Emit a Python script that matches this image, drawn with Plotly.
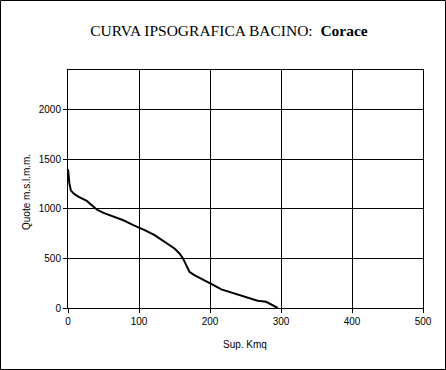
import plotly.graph_objects as go

# Data: area (km²) vs elevation (m s.l.m.)
sup_kmq = [0, 0.7, 2, 4, 8, 15, 26.5, 33.5, 40.5, 50, 64, 78, 92, 105, 108, 122, 136, 150,
           157, 162, 166.5, 171, 178, 187.5, 197, 205, 216, 235, 253, 267, 279, 288.5, 295.5]
quote = [1400, 1338, 1254, 1187, 1154, 1120, 1080, 1036, 993, 959, 918, 885, 835, 800, 785, 734,
         667, 600, 550, 500, 433, 365, 332, 299, 265, 231, 188, 148, 108, 73, 63, 30, 0]

x_ticks = [0, 100, 200, 300, 400, 500]
y_ticks = [0, 500, 1000, 1500, 2000]

W, H = 446, 370
L, R, T, B = 68, 23, 70, 62
pw, ph = W - L - R, H - T - B

fig = go.Figure()
fig.add_trace(go.Scatter(x=sup_kmq, y=quote, mode="lines",
                         line=dict(color="black", width=2), showlegend=False,
                         hoverinfo="skip"))

axis_common = dict(showline=True, linecolor="black", linewidth=1, mirror=True,
                   showgrid=True, gridcolor="black", gridwidth=1,
                   ticks="outside", ticklen=4, tickcolor="black", tickwidth=1,
                   zeroline=False,
                   tickfont=dict(family="Liberation Sans, Arial", size=10, color="black"))

fig.update_layout(
    width=W, height=H,
    margin=dict(l=L, r=R, t=T, b=B),
    paper_bgcolor="white", plot_bgcolor="white",
    xaxis=dict(range=[0, 500], tickvals=x_ticks, **axis_common),
    yaxis=dict(range=[0, 2400], tickvals=y_ticks, **axis_common),
    title=dict(text="CURVA IPSOGRAFICA BACINO:  <b>Corace</b>",
               font=dict(family="Liberation Serif, Times New Roman", size=15.5, color="black"),
               x=229 / W, xanchor="center", xref="container",
               y=1 - 31 / H, yanchor="middle", yref="container"),
    annotations=[
        dict(text="Quote m.s.l.m.m.", xref="paper", yref="paper",
             x=(26 - L) / pw, y=(H - B - 192) / ph, textangle=-90, showarrow=False,
             xanchor="center", yanchor="middle",
             font=dict(family="Liberation Sans, Arial", size=10, color="black")),
        dict(text="Sup. Kmq", xref="paper", yref="paper",
             x=(245 - L) / pw, y=-(344 - (H - B)) / ph, showarrow=False,
             xanchor="center", yanchor="middle",
             font=dict(family="Liberation Sans, Arial", size=10, color="black")),
    ],
    shapes=[
        dict(type="rect", xref="paper", yref="paper",
             x0=(0.5 - L) / pw, x1=(W - 0.5 - L) / pw,
             y0=-(H - 0.5 - T - ph) / ph, y1=1 + (T - 0.5) / ph,
             line=dict(color="black", width=1), layer="above"),
    ],
)

fig.write_html("out.html",
               config={"displayModeBar": False, "staticPlot": True},
               post_script="document.body.style.margin='0';document.body.style.padding='0';")
